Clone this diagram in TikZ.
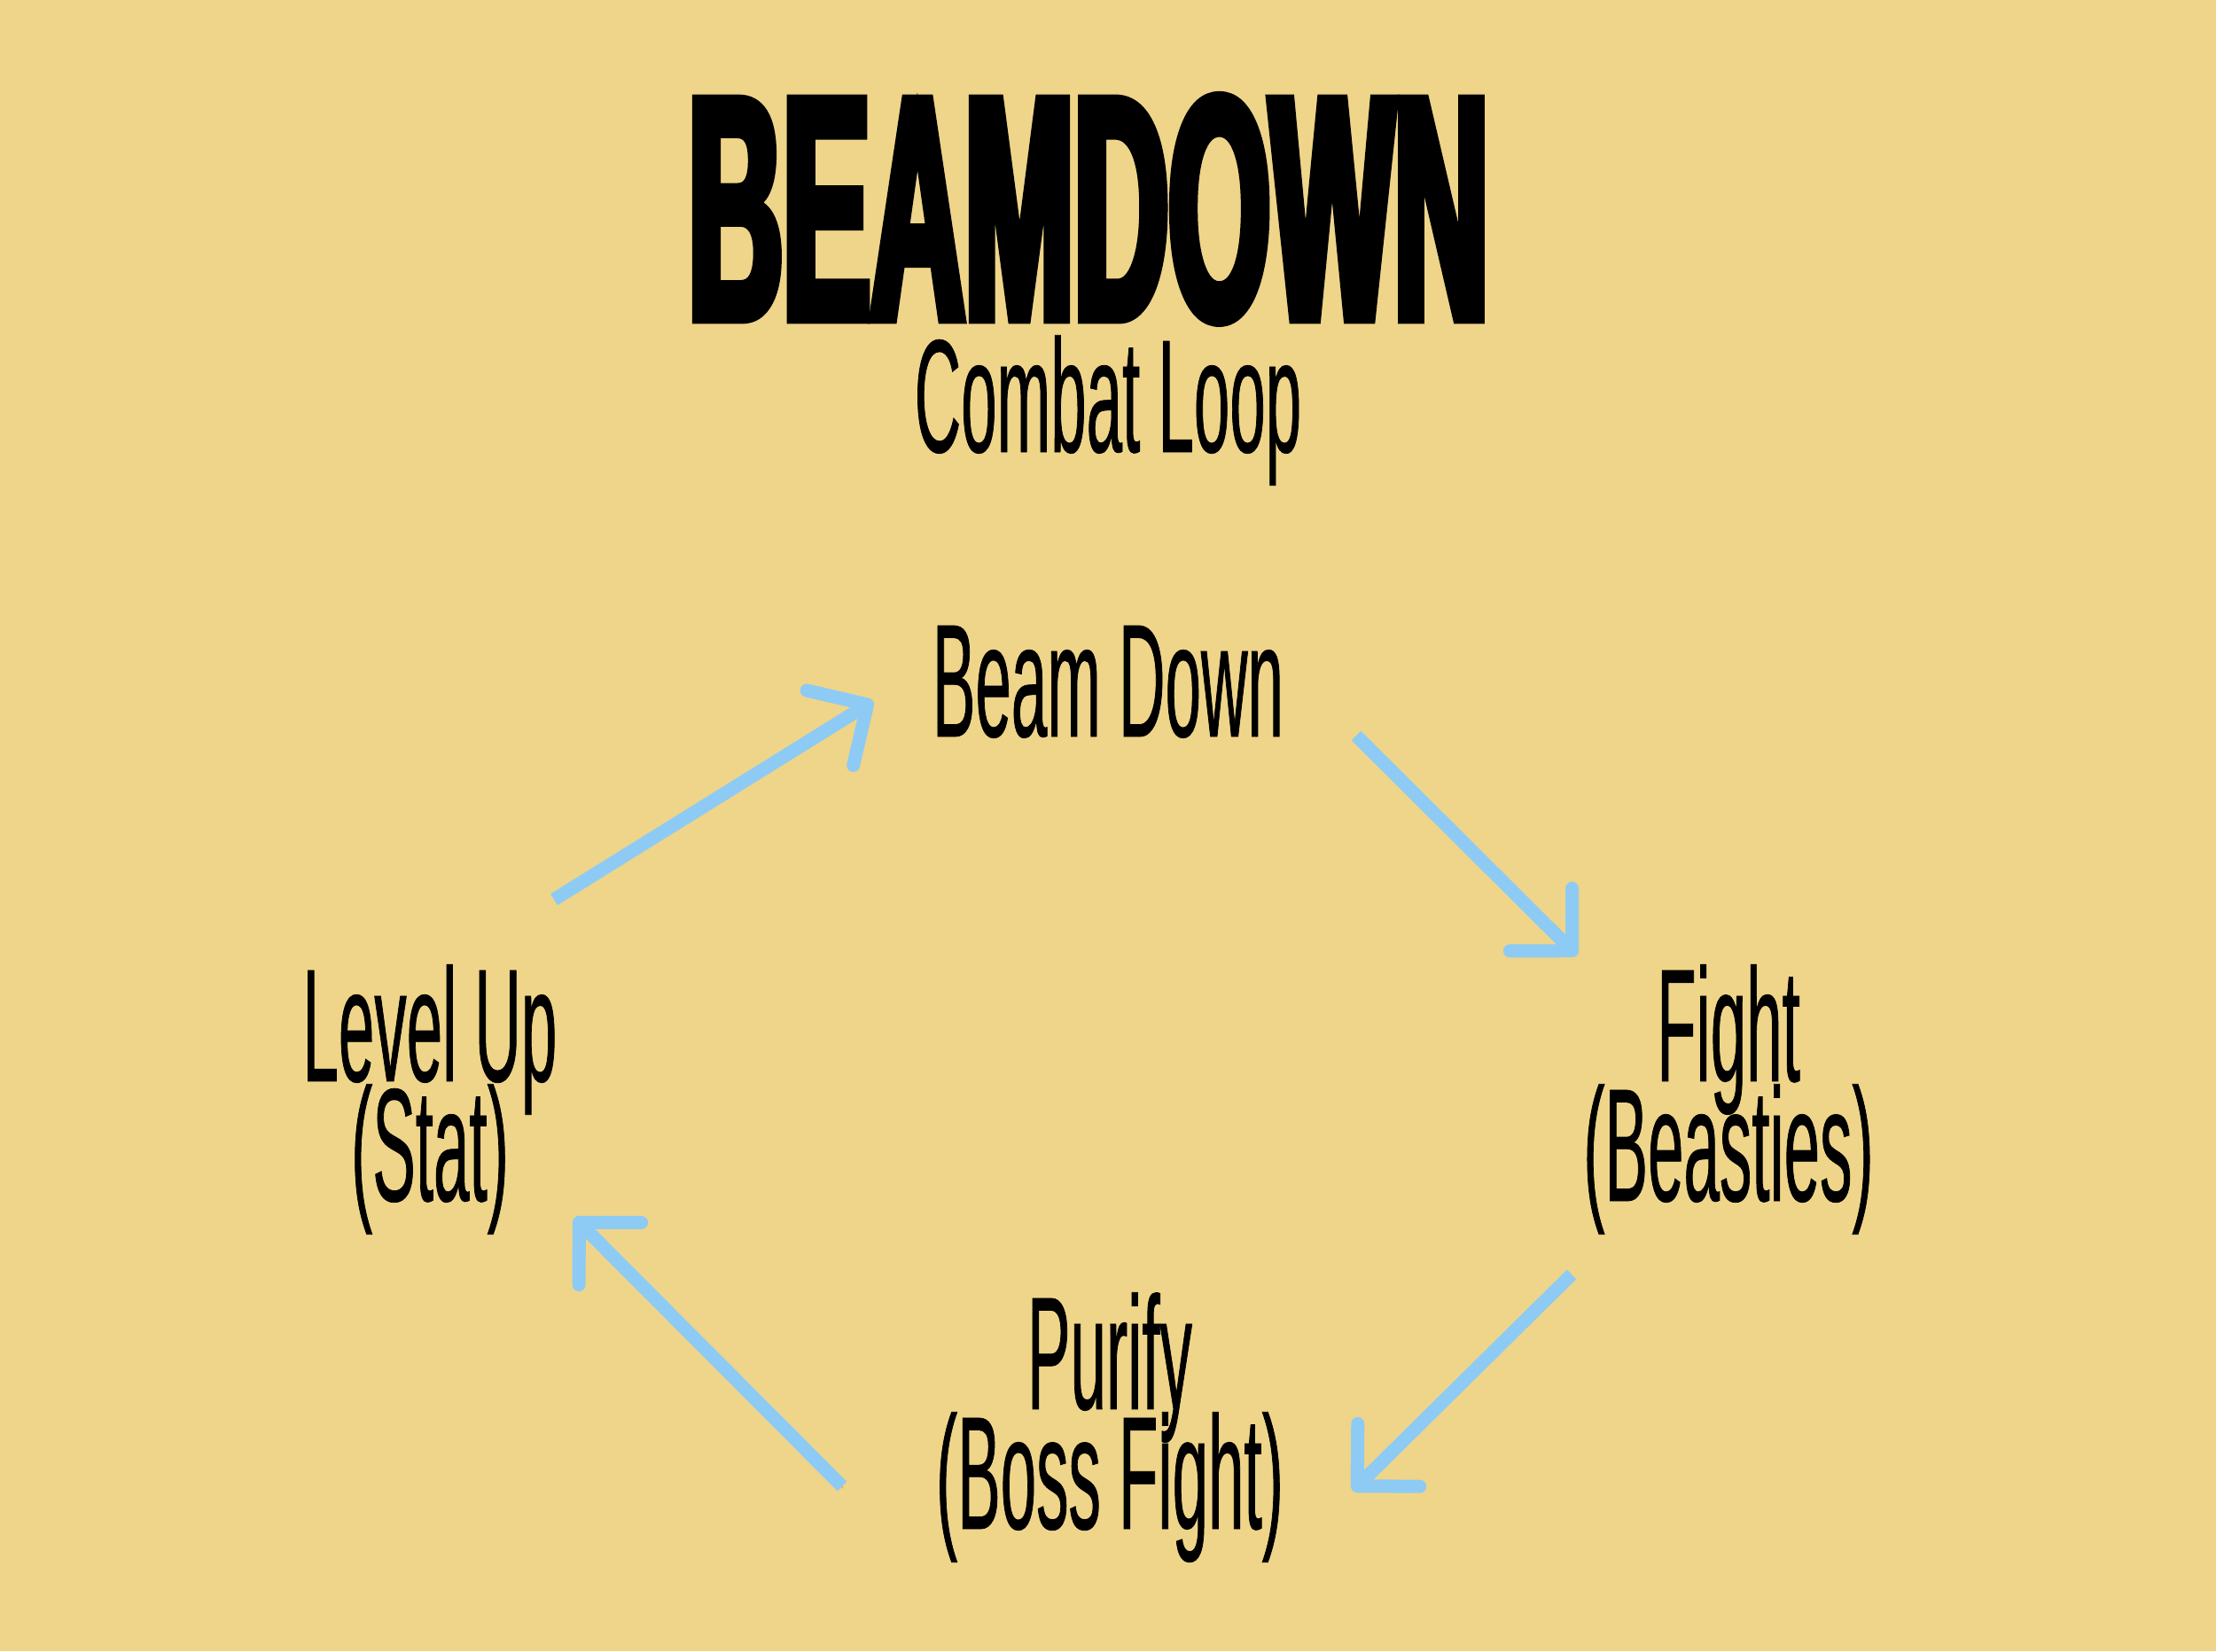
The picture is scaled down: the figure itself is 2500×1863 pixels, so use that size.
\documentclass[tikz,border=0pt]{standalone}
\usepackage{fontspec}
\usetikzlibrary{arrows.meta}
\newfontfamily\titlefont[FakeStretch=0.41,BoldFeatures={FakeBold=3}]{Liberation Sans}
\newfontfamily\labelfont[FakeStretch=0.40,FakeBold=0.4]{Liberation Sans}
\definecolor{bg}{HTML}{EFD589}
\definecolor{arrowblue}{HTML}{8ECBF4}
\definecolor{shadowc}{HTML}{CDB46B}
\tikzset{
  titlestyle/.style={inner sep=0pt, font={\titlefont\bfseries\fontsize{102.5}{110}\selectfont}},
  labelstyle/.style={inner sep=0pt, align=center, font={\labelfont\fontsize{51.7}{38.4}\selectfont\lineskiplimit=-100pt\lineskip=0pt}},
  flow/.style={draw=arrowblue, line width=4.27pt,
    -{Straight Barb[angle=90:20pt, round]},
    preaction={draw=shadowc, transform canvas={xshift=0.35pt, yshift=-0.6pt}}}
}
\begin{document}
\begin{tikzpicture}[x=0.01cm,y=-0.01cm]
\fill[bg] (0,0) rectangle (2500,1863);
\useasboundingbox (0,0) rectangle (2500,1863);
\node[titlestyle, anchor=base] (title) at (1228,360) {BEAMDOWN};
\node[labelstyle, anchor=base] (sub) at (1250,510) {Combat Loop};
\node[labelstyle, anchor=base] (beam) at (1250,831) {Beam Down};
\node[labelstyle, anchor=base] (fight) at (1950,1355) {Fight\\(Beasties)};
\node[labelstyle, anchor=base] (level) at (485,1355) {Level Up\\(Stat)};
\node[labelstyle, anchor=base] (purify) at (1252,1725) {Purify\\(Boss Fight)};
\coordinate (a1s) at (625,1015); \coordinate (a1e) at (985,791);
\coordinate (a2s) at (1530,830); \coordinate (a2e) at (1779,1078);
\coordinate (a3s) at (1773,1438); \coordinate (a3e) at (1526,1682);
\coordinate (a4s) at (950,1677); \coordinate (a4e) at (648,1374);
\draw[flow] (a1s) -- (a1e);
\draw[flow] (a2s) -- (a2e);
\draw[flow] (a3s) -- (a3e);
\draw[flow] (a4s) -- (a4e);
\end{tikzpicture}
\end{document}
